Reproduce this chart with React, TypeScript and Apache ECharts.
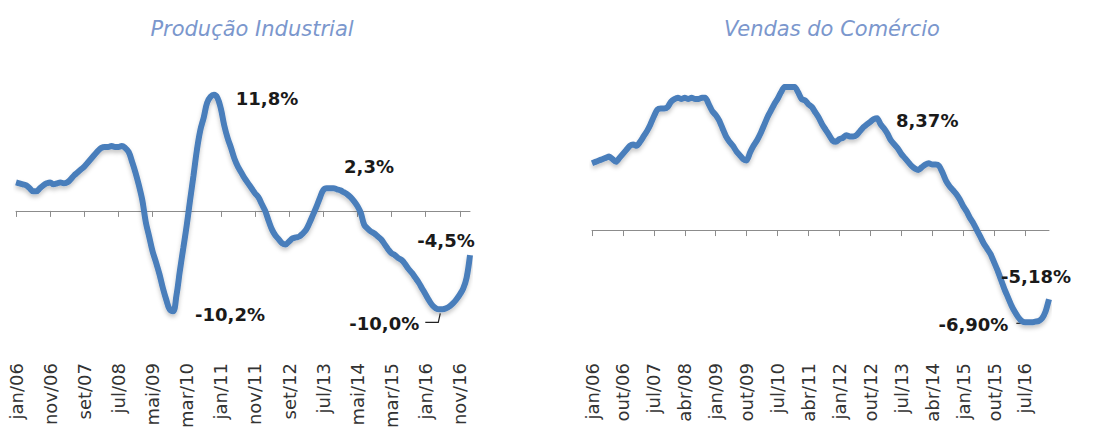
import React, { useEffect, useRef } from "react";
import * as echarts from "echarts";

// ---------- data ----------
const MONTHS = ["jan", "fev", "mar", "abr", "mai", "jun", "jul", "ago", "set", "out", "nov", "dez"];
const START_YEAR = 2006;
const N_MONTHS = 134; // jan/06 .. fev/17
const categories: string[] = Array.from({ length: N_MONTHS }, (_, i) => {
  const yy = (START_YEAR + Math.floor(i / 12)) % 100;
  return `${MONTHS[i % 12]}/${yy < 10 ? "0" + yy : yy}`;
});

const industrialTitle = "Produção Industrial";
const retailTitle = "Vendas do Comércio";

// Produção Industrial, % acumulado 12 meses
const industrial: number[] = [
  2.9, 2.8, 2.7, 2.6, 2.3, 2.0, 2.0, 2.3, 2.6, 2.8,
  2.9, 2.7, 2.8, 2.9, 2.8, 2.9, 3.2, 3.6, 3.9, 4.2,
  4.5, 4.9, 5.3, 5.7, 6.1, 6.4, 6.5, 6.5, 6.6, 6.5,
  6.5, 6.6, 6.4, 6.0, 5.0, 3.9, 2.6, 1.1, -1.1, -2.6,
  -4.1, -5.2, -6.4, -7.8, -9.0, -10.0, -10.2, -8.6, -6.1, -3.8,
  -1.5, 1.1, 3.6, 6.2, 8.2, 9.5, 11.0, 11.6, 11.8, 11.5,
  10.4, 8.7, 7.4, 6.4, 5.3, 4.5, 3.9, 3.3, 2.8, 2.3,
  1.8, 1.4, 0.7, 0.0, -1.0, -1.9, -2.5, -2.9, -3.3, -3.4,
  -3.1, -2.8, -2.7, -2.6, -2.3, -1.9, -1.2, -0.4, 0.4, 1.3,
  2.1, 2.3, 2.3, 2.3, 2.2, 2.1, 1.9, 1.7, 1.4, 1.0,
  0.5, -0.2, -1.4, -1.8, -2.1, -2.3, -2.6, -2.9, -3.4, -3.9,
  -4.3, -4.5, -4.8, -5.0, -5.4, -5.9, -6.3, -6.8, -7.3, -7.9,
  -8.5, -9.1, -9.6, -9.9, -10.0, -10.0, -9.9, -9.7, -9.4, -9.0,
  -8.5, -7.9, -6.8, -4.5,
];

// Vendas do Comércio, % acumulado 12 meses
const retail: number[] = [
  5.0, 5.1, 5.2, 5.3, 5.4, 5.5, 5.3, 5.1, 5.4, 5.7,
  6.0, 6.3, 6.4, 6.3, 6.6, 7.0, 7.4, 7.9, 8.5, 9.0,
  9.1, 9.1, 9.2, 9.6, 9.8, 9.9, 9.8, 9.9, 9.8, 9.9,
  9.8, 9.8, 9.9, 9.9, 9.4, 8.9, 8.6, 8.2, 7.6, 7.0,
  6.6, 6.3, 5.9, 5.6, 5.3, 5.2, 5.8, 6.3, 6.7, 7.2,
  7.8, 8.4, 8.9, 9.4, 9.8, 10.3, 10.7, 10.7, 10.7, 10.7,
  10.3, 9.8, 9.7, 9.4, 9.2, 8.8, 8.4, 7.9, 7.5, 7.1,
  6.7, 6.6, 6.8, 6.9, 7.1, 7.0, 7.0, 7.1, 7.4, 7.7,
  7.9, 8.1, 8.3, 8.37, 7.9, 7.6, 7.2, 6.7, 6.4, 6.1,
  5.7, 5.4, 5.1, 4.8, 4.6, 4.5, 4.7, 4.9, 5.0, 4.9,
  4.9, 4.8, 4.3, 3.7, 3.3, 3.0, 2.7, 2.3, 1.8, 1.4,
  0.9, 0.5, 0.0, -0.5, -1.0, -1.4, -1.8, -2.4, -3.0, -3.7,
  -4.4, -5.0, -5.6, -6.1, -6.5, -6.8, -6.9, -6.9, -6.9, -6.85,
  -6.8, -6.6, -6.1, -5.18,
];

// annotated points: index into the series and the text shown
const industrialNoteIndex = [58, 46, 92, 124, 133];
const industrialNoteText = ["11,8%", "-10,2%", "2,3%", "-10,0%", "-4,5%"];
const retailNoteIndex = [83, 133, 127];
const retailNoteText = ["8,37%", "-5,18%", "-6,90%"];

// ---------- layout / style ----------
const industrialNoteOffset = [[53, 4], [57, 3], [39, -22], [-55, 14], [-24, -15]];
const retailNoteOffset = [[50, 2], [-13, -23], [-55, 2]];
// leader lines relative to the annotated point (series, note #, points)
const leaders = [
  { series: 0, note: 3, pts: [[-14, 13], [-1, 13], [1, 4]] },
  { series: 1, note: 2, pts: [[-12, 1], [4, 1]] },
];

const LINE_COLOR = "#4a7ebb";
const AXIS_COLOR = "#8c8c8c";
const TITLE_COLOR = "#7b97cd";
const FONT = "'DejaVu Sans', Verdana, sans-serif";

function lineSeries(data: number[], idx: number, noteIdx: number[], noteText: string[], noteOff: number[][], smooth: number) {
  return {
    type: "line",
    xAxisIndex: idx * 2,
    yAxisIndex: idx,
    data,
    smooth,
    showSymbol: false,
    symbol: "none",
    lineStyle: {
      color: LINE_COLOR,
      width: 6,
      shadowColor: "rgba(0,0,0,0.22)",
      shadowBlur: 4,
      shadowOffsetY: 3,
    },
    markPoint: {
      symbol: "circle",
      symbolSize: 0,
      silent: true,
      label: {
        show: true,
        position: "inside",
        fontFamily: FONT,
        fontWeight: "bold",
        fontSize: 18,
        color: "#1a1a1a",
      },
      data: noteIdx.map((k, j) => ({
        coord: [categories[k], data[k]],
        label: { formatter: noteText[j], offset: noteOff[j] },
      })),
    },
  };
}

function catAxis(grid: number, tickInterval: number, margin: number, forLabels: boolean) {
  if (!forLabels) {
    return {
      type: "category",
      gridIndex: grid,
      data: categories,
      boundaryGap: false,
      axisLine: { show: true, onZero: true, lineStyle: { color: AXIS_COLOR, width: 1 } },
      axisTick: { show: true, interval: tickInterval, length: 6, lineStyle: { color: AXIS_COLOR } },
      axisLabel: { show: false },
      splitLine: { show: false },
    };
  }
  return {
    type: "category",
    gridIndex: grid,
    data: categories,
    boundaryGap: false,
    position: "bottom",
    axisLine: { show: false, onZero: false },
    axisTick: { show: false },
    splitLine: { show: false },
    axisLabel: {
      show: true,
      interval: tickInterval,
      rotate: 90,
      margin,
      fontFamily: FONT,
      fontSize: 18,
      color: "#333333",
    },
  };
}

export default function App() {
  const ref = useRef<HTMLDivElement>(null);

  useEffect(() => {
    if (!ref.current) return;
    const chart = echarts.init(ref.current, undefined, { renderer: "svg" });
    const option: any = {
      animation: false,
      backgroundColor: "#ffffff",
      grid: [
        { left: 16, top: 83, width: 454, height: 246, containLabel: false },
        { left: 592, top: 83, width: 457, height: 254, containLabel: false },
      ],
      xAxis: [
        catAxis(0, 9, 0, false),
        catAxis(0, 9, 34, true),
        catAxis(1, 8, 0, false),
        catAxis(1, 8, 26, true),
      ],
      yAxis: [
        { type: "value", gridIndex: 0, min: -12, max: 13, show: false },
        { type: "value", gridIndex: 1, min: -8, max: 11, show: false },
      ],
      series: [
        lineSeries(industrial, 0, industrialNoteIndex, industrialNoteText, industrialNoteOffset, 0.4),
        lineSeries(retail, 1, retailNoteIndex, retailNoteText, retailNoteOffset, 0.2),
      ],
      graphic: [
        {
          type: "text",
          x: 252,
          y: 29,
          style: {
            text: industrialTitle,
            textAlign: "center",
            textVerticalAlign: "middle",
            fontFamily: FONT,
            fontStyle: "italic",
            fontSize: 21,
            fill: TITLE_COLOR,
          },
        },
        {
          type: "text",
          x: 832,
          y: 29,
          style: {
            text: retailTitle,
            textAlign: "center",
            textVerticalAlign: "middle",
            fontFamily: FONT,
            fontStyle: "italic",
            fontSize: 21,
            fill: TITLE_COLOR,
          },
        },
      ],
    };
    chart.setOption(option);

    // leader lines for two annotations, anchored on the data points
    const noteIdx = [industrialNoteIndex, retailNoteIndex];
    const seriesData = [industrial, retail];
    const extra = leaders.map((l, j) => {
      const k = noteIdx[l.series][l.note];
      const p = chart.convertToPixel({ seriesIndex: l.series }, [k, seriesData[l.series][k]]) as number[];
      return {
        type: "polyline",
        id: "leader" + j,
        shape: { points: l.pts.map((d) => [p[0] + d[0], p[1] + d[1]]) },
        style: { stroke: "#222222", lineWidth: 1.2, fill: "none" },
        silent: true,
      };
    });
    chart.setOption({ graphic: [...option.graphic, ...extra] });

    return () => chart.dispose();
  }, []);

  return (
    <div
      ref={ref}
      style={{ position: "absolute", left: 0, top: 0, width: 1102, height: 432, background: "#fff" }}
    />
  );
}
